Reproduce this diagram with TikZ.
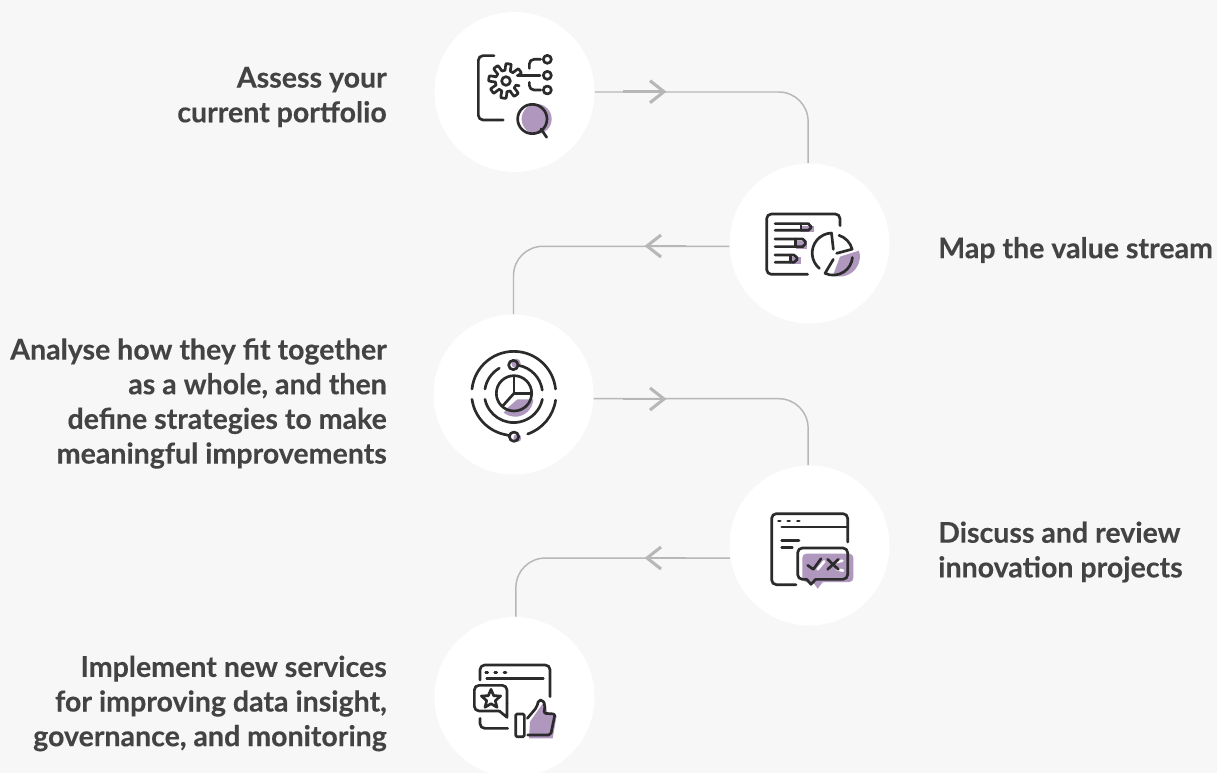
\documentclass[tikz,border=0pt]{standalone}
\usepackage{fontspec}
\setmainfont{Lato}[BoldFeatures={FakeBold=0.25}]
\usetikzlibrary{calc}
\definecolor{bgc}{HTML}{F7F7F7}
\definecolor{ink}{HTML}{2B2B2B}
\definecolor{txt}{HTML}{434343}
\definecolor{pur}{HTML}{AF97BE}
\definecolor{conn}{HTML}{B7B7B7}
\tikzset{
  disc/.style={circle,fill=white,minimum size=120pt,inner sep=0pt},
  lbl/.style={inner sep=0pt,text=txt,font=\fontsize{21.4}{26}\selectfont\bfseries},
  lblr/.style={lbl,align=right,anchor=east},
  lbll/.style={lbl,align=left,anchor=west},
  link/.style={draw=conn,line width=1.1pt,rounded corners=22pt},
  chev/.style={draw=conn,line width=2.3pt,line join=miter},
  seg/.style={draw=conn,line width=1.8pt},
  ic/.style={draw=ink,line width=2pt,line cap=round,line join=round},
  rc/.style={rounded corners=3.5pt},
  wh/.style={draw=white,line width=2pt,line cap=round},
  icon/.style={x=0.25pt,y=-0.25pt}
}
\begin{document}
\begin{tikzpicture}[x=0.75pt,y=-0.75pt]
\clip (0,0) rectangle (1217,773);
\fill[bgc] (0,0) rectangle (1217,773);
% discs
\node[disc] (c1) at (514.5,92) {};
\node[disc] (c2) at (809.5,243.5) {};
\node[disc] (c3) at (513.5,394.5) {};
\node[disc] (c4) at (809.5,545.5) {};
\node[disc] (c5) at (514.5,697) {};
% connectors
\draw[link] (c1.east) -| (c2.91);
\draw[link] (c2.182) -| (c3.north);
\draw[link] (c3.-3) -| (c4.91);
\draw[link] (c4.189) -| (c5.89);
\coordinate (a1) at (664,91.7);
\coordinate (b1) at (623,91.7);
\coordinate (a2) at (647,246);
\coordinate (b2) at (686,246);
\coordinate (a3) at (664,399);
\coordinate (b3) at (623,399);
\coordinate (a4) at (647,558);
\coordinate (b4) at (686,558);
\draw[seg] (b1) -- (a1);
\draw[seg] (b2) -- (a2);
\draw[seg] (b3) -- (a3);
\draw[seg] (b4) -- (a4);
\draw[chev] ([shift={(-14,-11)}]a1) -- (a1) -- ([shift={(-14,11)}]a1);
\draw[chev] ([shift={(14,-11)}]a2) -- (a2) -- ([shift={(14,11)}]a2);
\draw[chev] ([shift={(-14,-11)}]a3) -- (a3) -- ([shift={(-14,11)}]a3);
\draw[chev] ([shift={(14,-11)}]a4) -- (a4) -- ([shift={(14,11)}]a4);
% labels
\node[lblr] (t1) at (387,97) {Assess your\\current portfolio};
\node[lbll] (t2) at (938,250) {Map the value stream};
\node[lblr] (t3) at (387,403.5) {Analyse how they fit together\\as a whole, and then\\define strategies to make\\meaningful improvements};
\node[lbll] (t4) at (938,552) {Discuss and review\\innovation projects};
\node[lblr] (t5) at (387,703.5) {Implement new services\\for improving data insight,\\governance, and monitoring};
% icon 1
\begin{scope}[shift={(430,5)},icon]
\fill[pur] (320,342) circle (45);
\draw[ic,rc] (192,152) -- (145,152) -- (145,345) -- (220,345);
\draw[ic] plot[domain=20:335,samples=160] ({228+42*cos(\x)+10*cos(\x)*max(-1,min(1,3*sin(8*\x+20)))},{228+42*sin(\x)+10*sin(\x)*max(-1,min(1,3*sin(8*\x+20)))});
\draw[ic] (228,228) circle (13);
\draw[ic] (262,211) -- (330,211);
\draw[ic,rc] (332,163) -- (298,163) -- (298,190);
\draw[ic,rc] (298,232) -- (298,255) -- (332,255);
\draw[ic] (352,163) circle (12);
\draw[ic] (352,211) circle (12);
\draw[ic] (352,255) circle (12);
\draw[ic] (307,342) circle (44);
\draw[ic] (333,372) -- (350,397);
\end{scope}
% icon 2
\begin{scope}[shift={(725,160)},icon]
\fill[pur] (228,197) rectangle (268,217);
\fill[pur] (213,243) rectangle (245,266);
\fill[pur] (200,292) rectangle (228,312);
\fill[pur] (345,290) -- (402,272) arc[start angle=-17,end angle=110,radius=60] -- cycle;
\draw[ic,rc] (345,197) -- (345,162) -- (125,162) -- (125,343) -- (248,343);
\draw[ic] (150,191) -- (250,191) -- (258,200) -- (258,203) -- (250,211) -- (150,211);
\draw[ic] (228,191) -- (228,211);
\draw[ic] (150,237) -- (233,237) -- (241,245) -- (241,252) -- (233,260) -- (150,260);
\draw[ic] (212,237) -- (212,260);
\draw[ic] (150,285) -- (207,285) -- (216,293) -- (216,299) -- (207,307) -- (150,307);
\draw[ic] (196,285) -- (196,307);
\draw[ic] (283,325) arc[start angle=130,end angle=268,radius=60] -- (325,268);
\draw[ic] (342,226) arc[start angle=-72,end angle=-15,radius=60] -- (335,280);
\draw[ic] (325,298) -- (300,340) arc[start angle=115,end angle=5,radius=58];
\end{scope}
% icon 3
\begin{scope}[shift={(430,310)},icon]
\fill[pur] (258,160) circle (14);
\fill[pur] (262,384) circle (12);
\fill[pur] (230,296) -- (262,268) -- (310,268) arc[start angle=3,end angle=128,radius=55] -- cycle;
\draw[ic] (126,237) arc[start angle=186,end angle=354,radius=126];
\draw[ic] (126,268) arc[start angle=172,end angle=100,radius=126] -- (235,376);
\draw[ic] (293,372) arc[start angle=71,end angle=8,radius=126];
\draw[ic] (165,237) arc[start angle=189,end angle=240,radius=88];
\draw[ic] (265,166) arc[start angle=-80,end angle=-8,radius=88];
\draw[ic] (165,268) arc[start angle=168,end angle=12,radius=88];
\draw[ic] (250,165) circle (14);
\draw[ic] (252,380) circle (14);
\draw[ic] (252,250) circle (53);
\draw[ic] (252,198) -- (252,250) -- (305,250);
\draw[ic] (252,250) -- (218,288);
\end{scope}
% icon 4
\begin{scope}[shift={(725,462)},icon]
\fill[pur,rounded corners=3pt] (232,275) rectangle (385,360);
\fill[pur] (262,358) -- (278,380) -- (295,358) -- cycle;
\draw[ic,rc] (368,240) -- (368,155) -- (140,155) -- (140,368) -- (213,368);
\draw[ic] (170,195) -- (368,195);
\draw[ic] (160,177) -- (166,177);
\draw[ic] (188,177) -- (194,177);
\draw[ic] (217,177) -- (223,177);
\draw[ic] (170,235) -- (222,235);
\draw[ic] (170,257) -- (202,257);
\draw[ic,rc] (245,352) -- (218,352) -- (218,258) -- (368,258) -- (368,352) -- (272,352);
\draw[ic] (245,352) -- (258,367) -- (272,352);
\draw[wh] (278,322) -- (298,298);
\draw[wh] (336,300) -- (352,296);
\draw[wh] (336,322) -- (354,326);
\draw[ic] (248,310) -- (265,322) -- (288,290);
\draw[ic] (308,292) -- (340,322);
\draw[ic] (340,292) -- (308,322);
\end{scope}
% icon 5
\begin{scope}[shift={(430,610)},icon]
\fill[pur] (300,335) -- (328,295) -- (345,272) -- (352,310) -- (380,316) -- (368,385) -- (297,385) -- cycle;
\draw[ic,rc] (150,210) -- (150,165) -- (360,165) -- (360,260);
\draw[ic] (170,205) -- (340,205);
\draw[ic] (167,187) -- (173,187);
\draw[ic] (194,187) -- (200,187);
\draw[ic] (222,187) -- (228,187);
\draw[ic,rc] (150,325) -- (150,355) -- (233,355);
\draw[ic,rc] (208,303) -- (133,303) -- (133,226) -- (231,226) -- (231,280);
\draw[ic] (231,280) -- (231,322) -- (208,303);
\draw[ic] (183,238) -- (191,257) -- (212,258) -- (196,272) -- (201,292) -- (183,281) -- (165,292) -- (170,272) -- (154,258) -- (175,257) -- cycle;
\draw[ic,rounded corners=1pt] (257,312) rectangle (283,380);
\draw[ic,rounded corners=1.5pt] (293,375) -- (362,375) -- (375,312) -- (342,310) -- (345,285) -- (338,270) -- (326,270) -- (320,292) -- (292,325);
\end{scope}
\end{tikzpicture}
\end{document}
